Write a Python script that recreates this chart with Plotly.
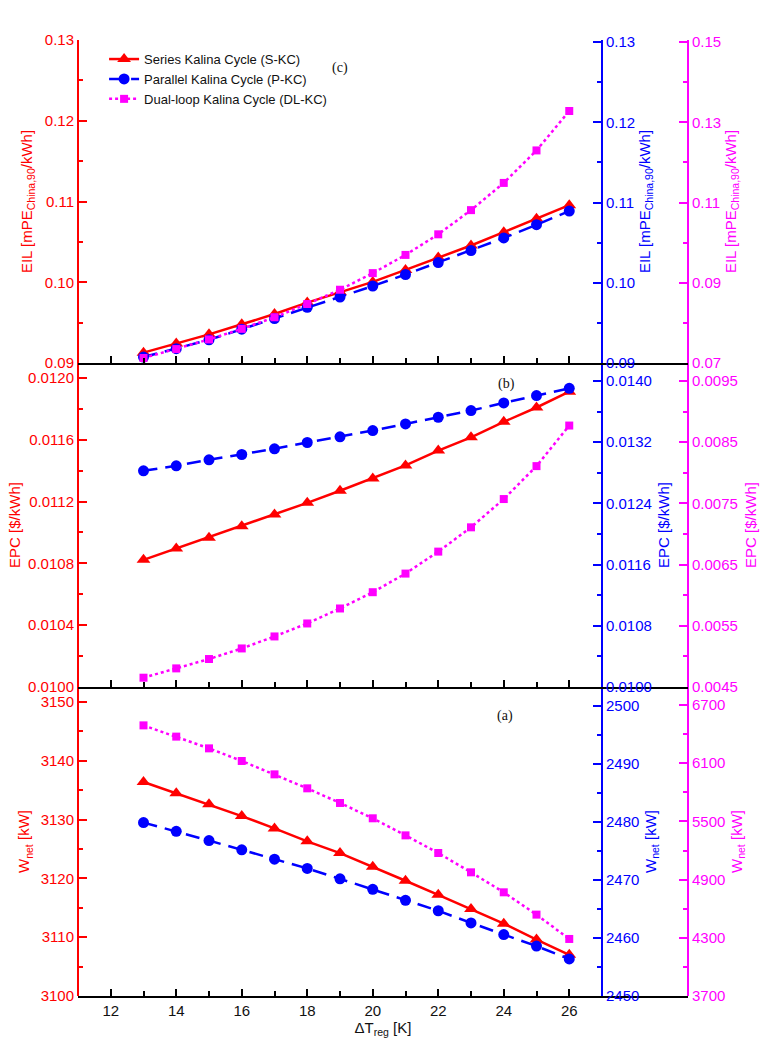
import plotly.graph_objects as go

# ---------------- data ----------------
dT = [13, 14, 15, 16, 17, 18, 19, 20, 21, 22, 23, 24, 25, 26]

# (a) net power [kW]
wnet_skc = [3136.4, 3134.5, 3132.6, 3130.6, 3128.5, 3126.3, 3124.3, 3122.0, 3119.6, 3117.2, 3114.8, 3112.3, 3109.6, 3107.0]
wnet_pkc = [2479.9, 2478.4, 2476.8, 2475.2, 2473.6, 2472.0, 2470.2, 2468.4, 2466.5, 2464.7, 2462.6, 2460.6, 2458.6, 2456.4]
wnet_dlkc = [6490, 6374, 6253, 6123, 5985, 5841, 5690, 5532, 5356, 5174, 4975, 4769, 4539, 4288]

# (b) EPC [$/kWh]
epc_skc = [0.010823, 0.010897, 0.010966, 0.011040, 0.011116, 0.011192, 0.011270, 0.011350, 0.011434, 0.011530, 0.011616, 0.011716, 0.011809, 0.011911]
epc_pkc = [0.012826, 0.012891, 0.012970, 0.013039, 0.013113, 0.013196, 0.013270, 0.013352, 0.013439, 0.013526, 0.013613, 0.013713, 0.013809, 0.013904]
epc_dlkc = [0.004652, 0.004804, 0.004957, 0.005130, 0.005326, 0.005538, 0.005783, 0.006049, 0.006353, 0.006712, 0.007109, 0.007571, 0.008109, 0.008772]

# (c) EIL [mPE/kWh]
eil_skc = [0.09128, 0.0924, 0.09355, 0.09479, 0.09607, 0.09748, 0.0988, 0.10004, 0.10153, 0.10306, 0.10455, 0.1062, 0.10785, 0.10955]
eil_pkc = [0.09074, 0.09178, 0.09289, 0.09421, 0.09554, 0.09694, 0.09822, 0.09959, 0.10103, 0.10252, 0.10401, 0.10558, 0.10723, 0.10893]
eil_dlkc = [0.07124, 0.07347, 0.07587, 0.07851, 0.0814, 0.08471, 0.08826, 0.0924, 0.09694, 0.10207, 0.1081, 0.11488, 0.12298, 0.13281]

series_names = ["Series Kalina Cycle (S-KC)", "Parallel Kalina Cycle (P-KC)", "Dual-loop Kalina Cycle (DL-KC)"]

# tick labels
x_ticks = [12, 14, 16, 18, 20, 22, 24, 26]
x_minor_ticks = [13, 15, 17, 19, 21, 23, 25]

wnet_red_ticks = [3100, 3110, 3120, 3130, 3140, 3150]
wnet_blue_ticks = [2450, 2460, 2470, 2480, 2490, 2500]
wnet_mag_ticks = [3700, 4300, 4900, 5500, 6100, 6700]
epc_red_ticks = ["0.0100", "0.0104", "0.0108", "0.0112", "0.0116", "0.0120"]
epc_blue_ticks = ["0.0100", "0.0108", "0.0116", "0.0124", "0.0132", "0.0140"]
epc_mag_ticks = ["0.0045", "0.0055", "0.0065", "0.0075", "0.0085", "0.0095"]
eil_red_ticks = ["0.09", "0.10", "0.11", "0.12", "0.13"]
eil_blue_ticks = ["0.09", "0.10", "0.11", "0.12", "0.13"]
eil_mag_ticks = ["0.07", "0.09", "0.11", "0.13", "0.15"]

# ---------------- layout helpers ----------------
W, H = 771, 1050
RED, BLUE, MAG = "#FF0000", "#0000FF", "#FF00FF"
FONT = "Liberation Sans, Arial, sans-serif"
SERIF = "Liberation Serif, Times New Roman, serif"
FS = 15

x_left, x_blue, x_mag = 78 / W, 602 / W, 688 / W
dom_a = [1 - 996 / H, 1 - 687 / H]
dom_b = [1 - 687 / H, 1 - 363 / H]
dom_c = [1 - 363 / H, 1 - 40 / H]


def minor_between(vals):
    return [(vals[i] + vals[i + 1]) / 2 for i in range(len(vals) - 1)]


def yax(color, rng, tickvals, ticktext, domain, title, standoff, side="left",
        position=None, overlaying=None):
    d = dict(
        domain=domain, range=rng, autorange=False,
        tickmode="array", tickvals=tickvals, ticktext=ticktext,
        ticks="inside", ticklen=8, tickwidth=2, tickcolor=color,
        minor=dict(ticks="inside", ticklen=4, tickwidth=2, tickcolor=color,
                   tickmode="array", tickvals=minor_between(tickvals)),
        showline=True, linecolor=color, linewidth=2,
        showgrid=False, zeroline=False,
        tickfont=dict(color=color, size=FS, family=FONT),
        title=dict(text=title, font=dict(color=color, size=FS, family=FONT), standoff=standoff),
        side=side, automargin=False,
    )
    if position is not None:
        d["anchor"] = "free"
        d["position"] = position
    if overlaying is not None:
        d["overlaying"] = overlaying
    return d


def xax(anchor, labels, title=None):
    d = dict(
        domain=[x_left, x_mag], range=[11, 27 + (x_mag - x_blue) / (x_blue - x_left) * 16],
        autorange=False, anchor=anchor,
        tickmode="array", tickvals=x_ticks, ticktext=[str(v) for v in x_ticks],
        showticklabels=labels,
        ticks="inside", ticklen=7, tickwidth=2, tickcolor="black",
        minor=dict(ticks="inside", ticklen=5, tickwidth=2, tickcolor="black",
                   tickmode="array", tickvals=x_minor_ticks),
        showline=True, linecolor="black", linewidth=2,
        showgrid=False, zeroline=False,
        tickfont=dict(color="#111", size=FS, family=FONT),
        automargin=False,
    )
    if title:
        d["title"] = dict(text=title, font=dict(color="#111", size=FS, family=FONT), standoff=2)
    return d


fig = go.Figure()

styles = [
    dict(color=RED, dash="solid", symbol="triangle-up", msize=12),
    dict(color=BLUE, dash="14px,8px", symbol="circle", msize=11),
    dict(color=MAG, dash="dot", symbol="square", msize=8),
]

panels = [
    ("x", ["y", "y2", "y3"], [wnet_skc, wnet_pkc, wnet_dlkc], False),
    ("x2", ["y4", "y5", "y6"], [epc_skc, epc_pkc, epc_dlkc], False),
    ("x3", ["y7", "y8", "y9"], [eil_skc, eil_pkc, eil_dlkc], True),
]

for xa, yas, series, legend in panels:
    for i in range(3):
        s = styles[i]
        fig.add_trace(go.Scatter(
            x=dT, y=series[i], xaxis=xa, yaxis=yas[i],
            mode="lines+markers", name=series_names[i], showlegend=legend,
            line=dict(color=s["color"], width=2.5, dash=s["dash"]),
            marker=dict(symbol=s["symbol"], size=s["msize"], color=s["color"]),
        ))

wt = "W<sub>net</sub> [kW]"
et = "EPC [$/kWh]"
it = "EIL [mPE<sub>China,90</sub>/kWh]"

fig.update_layout(
    width=W, height=H, template="none",
    margin=dict(l=0, r=0, t=0, b=0, pad=0),
    paper_bgcolor="white", plot_bgcolor="white",
    font=dict(family=FONT, size=FS),
    # panel (a)
    xaxis=xax("y", True, "\u0394T<sub>reg</sub> [K]"),
    yaxis=yax(RED, [3100, 3152.55], wnet_red_ticks, [str(v) for v in wnet_red_ticks], dom_a, wt, 6, position=x_left),
    yaxis2=yax(BLUE, [2450, 2503.28], wnet_blue_ticks, [str(v) for v in wnet_blue_ticks], dom_a, wt, 6,
               side="right", position=x_blue, overlaying="y"),
    yaxis3=yax(MAG, [3700, 6885.6], wnet_mag_ticks, [str(v) for v in wnet_mag_ticks], dom_a, wt, 6,
               side="right", position=x_mag, overlaying="y"),
    # panel (b)
    xaxis2=xax("y4", False),
    yaxis4=yax(RED, [0.0100, 0.012097], [float(v) for v in epc_red_ticks], epc_red_ticks, dom_b, et, 3, position=x_left),
    yaxis5=yax(BLUE, [0.0100, 0.014235], [float(v) for v in epc_blue_ticks], epc_blue_ticks, dom_b, et, 7,
               side="right", position=x_blue, overlaying="y4"),
    yaxis6=yax(MAG, [0.0045, 0.009794], [float(v) for v in epc_mag_ticks], epc_mag_ticks, dom_b, et, 8,
               side="right", position=x_mag, overlaying="y4"),
    # panel (c)
    xaxis3=xax("y7", False),
    yaxis7=yax(RED, [0.09, 0.13], [float(v) for v in eil_red_ticks], eil_red_ticks, dom_c, it, 8, position=x_left),
    yaxis8=yax(BLUE, [0.09, 0.13025], [float(v) for v in eil_blue_ticks], eil_blue_ticks, dom_c, it, 4,
               side="right", position=x_blue, overlaying="y7"),
    yaxis9=yax(MAG, [0.07, 0.1505], [float(v) for v in eil_mag_ticks], eil_mag_ticks, dom_c, it, 4,
               side="right", position=x_mag, overlaying="y7"),
    legend=dict(x=0.135, y=0.958, xanchor="left", yanchor="top",
                bgcolor="rgba(0,0,0,0)", borderwidth=0,
                font=dict(size=13, color="#111", family=FONT), itemwidth=30,
                tracegroupgap=2),
    annotations=[
        dict(text="(c)", x=340 / W, y=1 - 68 / H, xref="paper", yref="paper", showarrow=False,
             xanchor="center", yanchor="middle",
             font=dict(family=SERIF, size=14, color="#111")),
        dict(text="(b)", x=506 / W, y=1 - 384 / H, xref="paper", yref="paper", showarrow=False,
             xanchor="center", yanchor="middle",
             font=dict(family=SERIF, size=14, color="#111")),
        dict(text="(a)", x=505 / W, y=1 - 716 / H, xref="paper", yref="paper", showarrow=False,
             xanchor="center", yanchor="middle",
             font=dict(family=SERIF, size=14, color="#111")),
    ],
)

fig.write_html("out.html")
